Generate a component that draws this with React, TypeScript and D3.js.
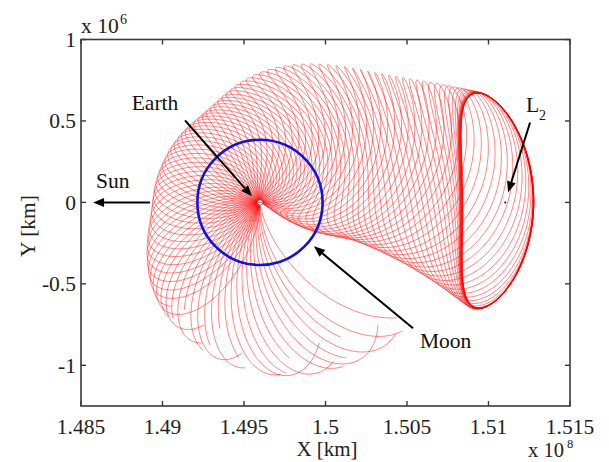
import React from 'react';
import * as d3 from 'd3';

const W = 609;
const H = 462;
const M = { left: 81, right: 570, top: 39.5, bottom: 406 };

const xTicks = [1.485, 1.49, 1.495, 1.5, 1.505, 1.51, 1.515];
const xTickLabels = ['1.485', '1.49', '1.495', '1.5', '1.505', '1.51', '1.515'];
const yTicks = [-1, -0.5, 0, 0.5, 1];
const yTickLabels = ['-1', '-0.5', '0', '0.5', '1'];
const xDomain = [1.485, 1.515]; // x 1e8 km
const yDomain = [-1.25, 1]; // x 1e6 km

const EARTH_X = 1.49598; // x 1e8 km
const L2_X = 1.51103; // x 1e8 km
const MOON_ORBIT_R = 0.3844; // x 1e6 km

// Cross-sections of the manifold tube in an Earth-centred polar frame
// (angle in degrees, radius in 1e6 km) at the given integration times.
const sectionTime = [0, 0.12, 0.3, 0.42, 0.55, 0.68, 0.78, 0.9, 1.0];
const sectionAngle = [0.5, 0.5, 14, 31, 110, 178, 226, 280, 332];
const sectionRadius = [1.46, 1.45, 0.83, 0.41, 0.325, 0.335, 0.45, 0.55, 0.62];
const sectionUAngle = [26.5, 27, 36, 59, 20, 2, 0, 0, 0];
const sectionURadius = [0, 0, 0.2, 0.385, 0.315, 0.325, 0.43, 0.53, 0.6];
const sectionVRadius = [0.215, 0.225, 0.15, 0.05, 0, 0, 0, 0, 0];
const trajectoryCount = 24;
const windings = 4.6;
// Phase (deg) at which each trajectory is cut off
const endPhaseRange = [-50, 50];
const samplesPerTrajectory = 800;

// Annotation anchors in data units: [X (1e8 km), Y (1e6 km)]
const earthArrow = [[1.49138, 0.503], [1.49549, 0.037]];
const sunArrow = [[1.48923, 0], [1.48574, 0]];
const moonArrow = [[1.50537, -0.773], [1.49929, -0.27]];
const l2Arrow = [[1.51255, 0.49], [1.5112, 0.061]];

// Monotone cubic (Fritsch–Carlson) interpolation through keyframes
function smoothInterp(xs: number[], ys: number[]) {
  const n = xs.length;
  const d: number[] = [];
  for (let i = 0; i < n - 1; i++) d.push((ys[i + 1] - ys[i]) / (xs[i + 1] - xs[i]));
  const m: number[] = new Array(n);
  m[0] = d[0];
  m[n - 1] = d[n - 2];
  for (let i = 1; i < n - 1; i++) m[i] = d[i - 1] * d[i] <= 0 ? 0 : (d[i - 1] + d[i]) / 2;
  for (let i = 0; i < n - 1; i++) {
    if (d[i] === 0) {
      m[i] = 0;
      m[i + 1] = 0;
    } else {
      const a = m[i] / d[i];
      const b = m[i + 1] / d[i];
      const h = a * a + b * b;
      if (h > 9) {
        const t = 3 / Math.sqrt(h);
        m[i] = t * a * d[i];
        m[i + 1] = t * b * d[i];
      }
    }
  }
  return (x: number) => {
    let i = 0;
    while (i < n - 2 && x > xs[i + 1]) i++;
    const h = xs[i + 1] - xs[i];
    const t = (x - xs[i]) / h;
    const t2 = t * t;
    const t3 = t2 * t;
    return (
      (2 * t3 - 3 * t2 + 1) * ys[i] +
      (t3 - 2 * t2 + t) * h * m[i] +
      (-2 * t3 + 3 * t2) * ys[i + 1] +
      (t3 - t2) * h * m[i + 1]
    );
  };
}

function buildTrajectories(): [number, number][][] {
  const iA = smoothInterp(sectionTime, sectionAngle);
  const iR = smoothInterp(sectionTime, sectionRadius);
  const iUA = smoothInterp(sectionTime, sectionUAngle);
  const iUR = smoothInterp(sectionTime, sectionURadius);
  const iVR = smoothInterp(sectionTime, sectionVRadius);
  const TWO_PI = 2 * Math.PI;
  const golden = 0.6180339887;
  return d3.range(trajectoryCount).map((k) => {
    const phi = (TWO_PI * k) / trajectoryCount;
    // latest time at which this trajectory reaches its cut-off phase
    const f = (k * golden) % 1;
    const target = ((endPhaseRange[0] + f * (endPhaseRange[1] - endPhaseRange[0])) * Math.PI) / 180;
    const psiEnd = phi + TWO_PI * windings;
    const back = (((psiEnd - target) % TWO_PI) + TWO_PI) % TWO_PI;
    const sEnd = 1 - back / (TWO_PI * windings);
    const count = Math.round(samplesPerTrajectory * sEnd);
    return d3.range(count + 1).map((j) => {
      const s = (j / count) * sEnd;
      const psi = phi + TWO_PI * windings * s;
      const c = Math.cos(psi);
      const sn = Math.sin(psi);
      const th = ((iA(s) + iUA(s) * c) * Math.PI) / 180;
      const r = Math.max(0.004, iR(s) + iUR(s) * c + iVR(s) * sn);
      return [EARTH_X + (r * Math.cos(th)) / 100, r * Math.sin(th)] as [number, number];
    });
  });
}

function Arrow({ from, to, x, y }: any) {
  const x1 = x(from[0]);
  const y1 = y(from[1]);
  const x2 = x(to[0]);
  const y2 = y(to[1]);
  const a = Math.atan2(y2 - y1, x2 - x1);
  const len = 11;
  const wid = 4.5;
  const bx = x2 - len * Math.cos(a);
  const by = y2 - len * Math.sin(a);
  const p = [
    [x2, y2],
    [bx + wid * Math.sin(a), by - wid * Math.cos(a)],
    [bx - wid * Math.sin(a), by + wid * Math.cos(a)],
  ];
  return (
    <g>
      <line x1={x1} y1={y1} x2={bx} y2={by} stroke="#000" strokeWidth={2} />
      <polygon points={p.map((q) => q.join(',')).join(' ')} fill="#000" />
    </g>
  );
}

export default function App() {
  const x = d3.scaleLinear().domain(xDomain).range([M.left, M.right]);
  const y = d3.scaleLinear().domain(yDomain).range([M.bottom, M.top]);
  const trajectories = buildTrajectories();
  const line = d3
    .line<[number, number]>()
    .x((d) => x(d[0]))
    .y((d) => y(d[1]));
  const font = "'Liberation Serif', 'Times New Roman', serif";
  const axisColor = '#3a3a3a';
  const tick = 5;
  const moonR = y(0) - y(MOON_ORBIT_R);

  return (
    <svg
      width={W}
      height={H}
      style={{ position: 'absolute', left: 0, top: 0, background: '#fff' }}
      fontFamily={font}
    >
      <rect x={0} y={0} width={W} height={H} fill="#fff" />
      <g>
        {trajectories.map((t, i) => (
          <path key={i} d={line(t) || ''} fill="none" stroke="#ff0000" strokeOpacity={0.8} strokeWidth={0.6} />
        ))}
      </g>
      <circle cx={x(EARTH_X)} cy={y(0)} r={moonR} fill="none" stroke="#1010e8" strokeWidth={2.6} />
      <circle cx={x(EARTH_X)} cy={y(0)} r={2.6} fill="#fff" stroke="#666" strokeWidth={0.9} />
      <line x1={x(EARTH_X) - 2} x2={x(EARTH_X) + 2} y1={y(0)} y2={y(0)} stroke="#666" strokeWidth={0.8} />
      <circle cx={x(L2_X)} cy={y(0)} r={1} fill="#000" />

      <rect
        x={M.left}
        y={M.top}
        width={M.right - M.left}
        height={M.bottom - M.top}
        fill="none"
        stroke={axisColor}
        strokeWidth={1.6}
      />
      {xTicks.map((v, i) => (
        <g key={'xt' + i}>
          <line x1={x(v)} x2={x(v)} y1={M.bottom} y2={M.bottom - tick} stroke={axisColor} strokeWidth={1.4} />
          <line x1={x(v)} x2={x(v)} y1={M.top} y2={M.top + tick} stroke={axisColor} strokeWidth={1.4} />
          <text x={x(v)} y={434} textAnchor="middle" fontSize={21.5} fill="#222">
            {xTickLabels[i]}
          </text>
        </g>
      ))}
      {yTicks.map((v, i) => (
        <g key={'yt' + i}>
          <line x1={M.left} x2={M.left + tick} y1={y(v)} y2={y(v)} stroke={axisColor} strokeWidth={1.4} />
          <line x1={M.right} x2={M.right - tick} y1={y(v)} y2={y(v)} stroke={axisColor} strokeWidth={1.4} />
          <text x={76} y={y(v) + 7.5} textAnchor="end" fontSize={21.5} fill="#222">
            {yTickLabels[i]}
          </text>
        </g>
      ))}

      <text x={81} y={33} fontSize={21.5} fill="#222">x 10</text>
      <text x={120} y={24} fontSize={14} fill="#222">6</text>
      <text x={528} y={457} fontSize={20.5} fill="#222">x 10</text>
      <text x={567} y={448} fontSize={12.5} fill="#222">8</text>
      <text x={327} y={456} textAnchor="middle" fontSize={21} fill="#222">X [km]</text>
      <text transform={`translate(35, 226) rotate(-90)`} textAnchor="middle" fontSize={21.5} fill="#222">
        Y [km]
      </text>

      <Arrow from={earthArrow[0]} to={earthArrow[1]} x={x} y={y} />
      <Arrow from={sunArrow[0]} to={sunArrow[1]} x={x} y={y} />
      <Arrow from={moonArrow[0]} to={moonArrow[1]} x={x} y={y} />
      <Arrow from={l2Arrow[0]} to={l2Arrow[1]} x={x} y={y} />
      <text x={155} y={110} textAnchor="middle" fontSize={21.5} fill="#111">Earth</text>
      <text x={96} y={188} fontSize={21.5} fill="#111">Sun</text>
      <text x={420} y={348} fontSize={21.5} fill="#111">Moon</text>
      <text x={526} y={112} fontSize={21.5} fill="#111">L</text>
      <text x={539} y={120} fontSize={14} fill="#111">2</text>
    </svg>
  );
}
